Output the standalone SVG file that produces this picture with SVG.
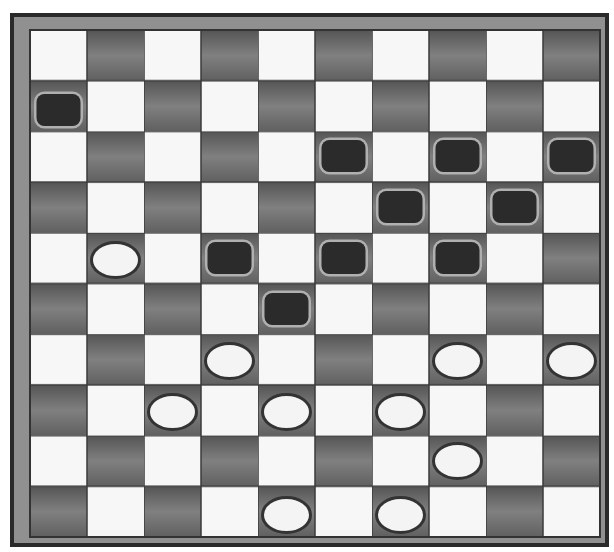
<svg xmlns="http://www.w3.org/2000/svg" width="614" height="552" viewBox="0 0 614 552">
<defs>
<linearGradient id="dk" x1="0" y1="0" x2="0" y2="1">
<stop offset="0" stop-color="#555555"/>
<stop offset="0.5" stop-color="#808080"/>
<stop offset="1" stop-color="#606060"/>
</linearGradient>
<pattern id="board" patternUnits="userSpaceOnUse" x="30" y="30" width="114" height="101.4">
<rect x="0" y="0" width="114" height="101.4" fill="#f7f7f7"/>
<rect x="57" y="0" width="57" height="50.7" fill="url(#dk)"/>
<rect x="0" y="50.7" width="57" height="50.7" fill="url(#dk)"/>
<path d="M0 0H114M0 50.7H114M0 0V101.4M57 0V101.4" stroke="#3a3a3a" stroke-width="1.5" fill="none"/>
</pattern>
<g id="bp">
<rect x="-23" y="-17" width="46" height="34" rx="9" fill="none" stroke="#b0b0b0" stroke-width="3"/>
<rect x="-22" y="-16" width="44" height="32" rx="8" fill="#2b2b2b"/>
</g>
<g id="wp">
<ellipse cx="0" cy="0" rx="24" ry="17.5" fill="#f4f4f4" stroke="#333" stroke-width="3"/>
</g>
</defs>
<style>
.frame{fill:#909090;stroke:#2a2a2a;stroke-width:4}
</style>
<rect width="614" height="552" fill="#ffffff"/>
<rect class="frame" x="12" y="15" width="595" height="530"/>
<rect x="30" y="30" width="570" height="507" fill="url(#board)" stroke="#333" stroke-width="2"/>
<g id="black-pieces">
<use href="#bp" x="58.5" y="110"/>
<use href="#bp" x="343.5" y="156"/>
<use href="#bp" x="457.5" y="156"/>
<use href="#bp" x="571.5" y="156"/>
<use href="#bp" x="400.5" y="207"/>
<use href="#bp" x="514.5" y="207"/>
<use href="#bp" x="229.5" y="258"/>
<use href="#bp" x="343.5" y="258"/>
<use href="#bp" x="457.5" y="258"/>
<use href="#bp" x="286.5" y="309"/>
</g>
<g id="white-pieces">
<use href="#wp" x="115.5" y="260"/>
<use href="#wp" x="229.5" y="361"/>
<use href="#wp" x="457.5" y="361"/>
<use href="#wp" x="571.5" y="361"/>
<use href="#wp" x="172.5" y="412"/>
<use href="#wp" x="286.5" y="412"/>
<use href="#wp" x="400.5" y="412"/>
<use href="#wp" x="457.5" y="461"/>
<use href="#wp" x="286.5" y="515"/>
<use href="#wp" x="400.5" y="515"/>
</g>
</svg>
